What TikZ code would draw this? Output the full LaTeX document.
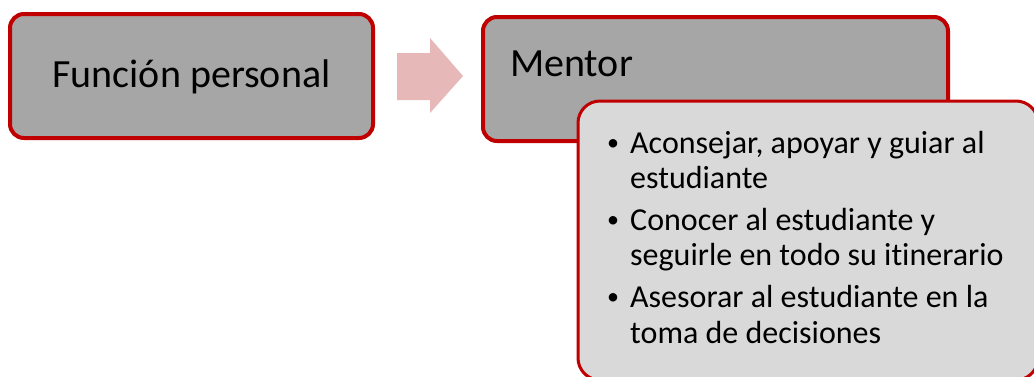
\documentclass[tikz,border=0pt]{standalone}
\usepackage{fontspec}
\setmainfont{Carlito}[Ligatures=NoCommon]
\definecolor{boxred}{HTML}{C00000}
\definecolor{darkfill}{HTML}{A6A6A6}
\definecolor{lightfill}{HTML}{D9D9D9}
\definecolor{arrowpink}{HTML}{E6B9B8}
\begin{document}
\begin{tikzpicture}[x=1pt,y=-1pt,
  headbox/.style={draw=boxred, line width=4pt, fill=darkfill, rounded corners=14pt},
  detailbox/.style={draw=boxred, line width=3pt, fill=lightfill, rounded corners=22pt},
  headtext/.style={font=\fontsize{40}{48}\selectfont, text=black, inner sep=0pt},
  itemtext/.style={font=\fontsize{32}{38}\selectfont, text=black, inner sep=0pt, anchor=base west},
  bullettext/.style={font=\fontsize{24}{28}\selectfont, text=black, inner sep=0pt, anchor=base west}
]
\useasboundingbox (0,0) rectangle (1034,376);
\fill[white] (0,0) rectangle (1034,376);
% left box
\draw[headbox] (10,14) rectangle (373,138);
\node[headtext, anchor=base] (fp) at (191.5,87) {Función personal};
% arrow
\fill[arrowpink] (397,53) -- (430,53) -- (430,38) -- (463,76) -- (430,113) -- (430,100) -- (397,100) -- cycle;
% mentor box
\draw[headbox] (483,17) rectangle (948,141);
\node[headtext, anchor=base west] (mentor) at (510,76) {Mentor};
% detail box
\draw[detailbox] (578,101) rectangle (1038,380);
\node[bullettext] (b1) at (607,150) {•};
\node[itemtext] (l1) at (630,153) {Aconsejar, apoyar y guiar al};
\node[itemtext] (l2) at (630,188) {estudiante};
\node[bullettext] (b2) at (607,227) {•};
\node[itemtext] (l3) at (630,230) {Conocer al estudiante y};
\node[itemtext] (l4) at (630,265) {seguirle en todo su itinerario};
\node[bullettext] (b3) at (607,304) {•};
\node[itemtext] (l5) at (630,307) {Asesorar al estudiante en la};
\node[itemtext] (l6) at (630,343) {toma de decisiones};
\end{tikzpicture}
\end{document}
